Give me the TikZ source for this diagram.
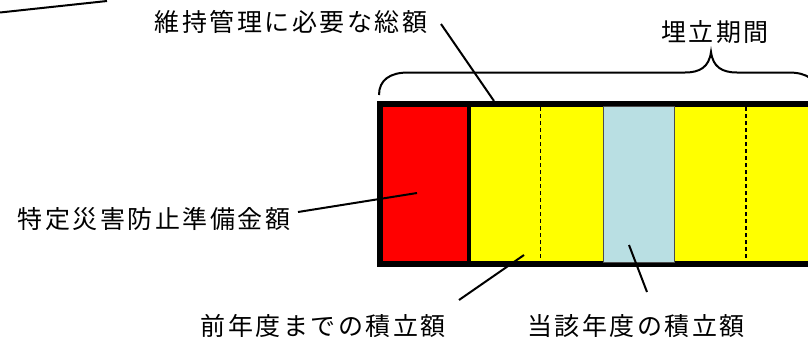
\documentclass[tikz,border=0pt]{standalone}
\usepackage{fontspec}
\setmainfont{Noto Sans CJK JP}
\definecolor{barred}{RGB}{255,0,0}
\definecolor{baryellow}{RGB}{255,255,0}
\definecolor{barblue}{RGB}{185,223,227}
\begin{document}
\begin{tikzpicture}[x=1pt,y=-1pt,
  lbl/.style={font=\fontsize{25}{25}\selectfont\addfontfeature{LetterSpace=10}, inner sep=0pt, anchor=center, text=black},
  leader/.style={line width=2pt},
  thin dash/.style={line width=1pt, dash pattern=on 4pt off 3pt}]
\useasboundingbox (0,0) rectangle (808,338);
\clip (0,0) rectangle (808,338);
% bar segments
\fill[barred] (380,104) rectangle (468.5,264);
\fill[baryellow] (468.5,104) rectangle (603,264);
\fill[baryellow] (674,104) rectangle (840,264);
\draw[thin dash] (540,107) -- (540,261);
\draw[thin dash, line width=2pt] (746,107) -- (746,261);
\draw[line width=4pt] (468.5,104) -- (468.5,264);
\draw[line width=6pt] (840,104) -- (380,104) -- (380,264) -- (840,264);
\filldraw[fill=barblue, draw=black!70, line width=1pt] (603.5,106) rectangle (674,262.5);
% brace
\draw[line width=2pt] (379,95) .. controls (379,80) and (390,72.5) .. (408,72.5)
  -- (685,72.5) .. controls (700,72.5) and (709,67) .. (711,52)
  .. controls (713,67) and (722,72.5) .. (737,72.5)
  -- (789,72.5) .. controls (807,72.5) and (818,80) .. (818,95);
% labels
\node[lbl] (total) at (291,22) {維持管理に必要な総額};
\node[lbl] (period) at (715,32) {埋立期間};
\node[lbl] (reserve) at (154,219) {特定災害防止準備金額};
\node[lbl] (prev) at (323,326) {前年度までの積立額};
\node[lbl] (curr) at (636,326) {当該年度の積立額};
% leader ends
\coordinate (totalend) at (494,101);
\coordinate (totalstart) at (441,24);
\coordinate (reservestart) at (298,212);
\coordinate (reserveend) at (417,193);
\coordinate (prevstart) at (459,300);
\coordinate (prevend) at (524,255);
\coordinate (currstart) at (647,292);
\coordinate (currend) at (629,245);
\coordinate (tlA) at (0,12.5);
\coordinate (tlB) at (107,1);
\draw[leader] (totalstart) -- (totalend);
\draw[leader] (reservestart) -- (reserveend);
\draw[leader] (prevstart) -- (prevend);
\draw[leader] (currstart) -- (currend);
\draw[leader] (tlA) -- (tlB);
\end{tikzpicture}
\end{document}
